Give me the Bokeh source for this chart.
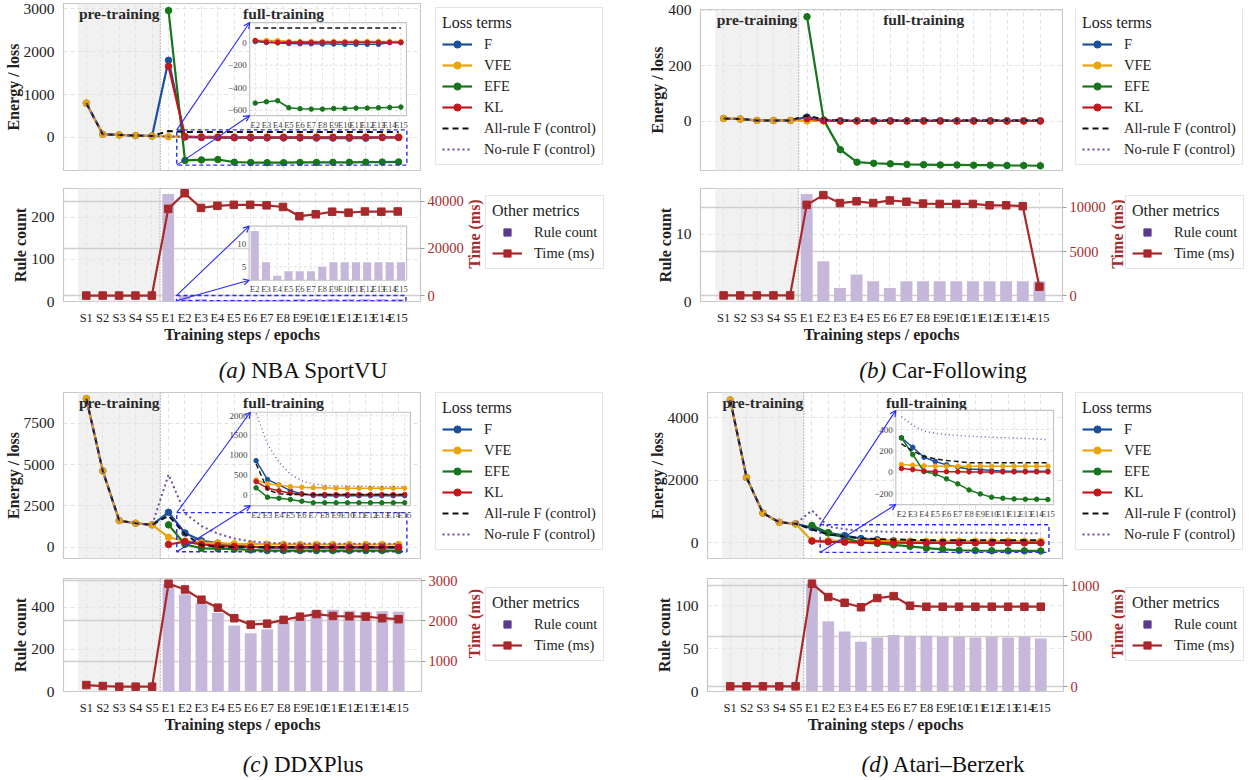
import math
from bokeh.plotting import figure
from bokeh.models import (Range1d, LinearAxis, FixedTicker, Grid, BoxAnnotation, Span,
                          Legend, LegendItem, Arrow, OpenHead, Div, AllLabels)
from bokeh.layouts import column, row
from bokeh.core.properties import value
from bokeh.embed import file_html
from bokeh.resources import INLINE

N = float("nan")
steps = ["S1", "S2", "S3", "S4", "S5", "E1", "E2", "E3", "E4", "E5", "E6", "E7", "E8",
         "E9", "E10", "E11", "E12", "E13", "E14", "E15"]

# ---------------- (a) NBA SportVU ----------------
a_F = [800, 75, 60, 45, 35, 1800, 10, 2, -2, -8, -10, -10, -12, -12, -14, -14, -15, -15, 0, 0]
a_VFE = [800, 75, 60, 45, 35, 20, 21, 20, 18, 10, 10, 10, 10, 10, 10, 10, 10, 10, 10, 10]
a_EFE = [N, N, N, N, N, 2960, -535, -523, -514, -576, -584, -588, -588, -582, -582, -579, -579, -576, -573, -570]
a_KL = [N, N, N, N, N, 1660, 18, 5, 3, 3, 3, 3, 3, 3, 3, 3, 3, 3, 3, 3]
a_ALL = [800, 75, 60, 45, 35, 150, 130, 130, 130, 130, 130, 130, 130, 130, 130, 130, 130, 130, 130, 130]
a_NO = [800, 75, 60, 45, 35, 25, 15, 12, 12, 10, 10, 10, 10, 10, 10, 10, 10, 10, 10, 10]
a_rules = [0, 0, 0, 0, 0, 255, 13, 6, 3, 4, 4, 4, 5, 6, 6, 6, 6, 6, 6, 6]
a_time = [100, 100, 100, 100, 100, 36700, 43300, 37100, 38000, 38400, 38400, 38200, 37500,
          33600, 34400, 35500, 35100, 35600, 35500, 35600]
a_loss_ticks = [0, 1000, 2000, 3000]
a_rule_ticks = [0, 100, 200]
a_time_ticks = [0, 20000, 40000]
a_inset_ticks = [-600, -400, -200, 0]
a_inset_labels = ["\u2212600", "\u2212400", "\u2212200", "0"]
a_rinset_ticks = [5, 10]
a_rinset_labels = ["5", "10"]

# ---------------- (b) Car-Following ----------------
b_F = [10, 8, 3, 3, 3, 15, 3, 2, 2, 2, 2, 2, 2, 2, 2, 2, 2, 2, 2, 2]
b_VFE = [10, 8, 3, 3, 3, 1, 2, 1, 1, 1, 1, 1, 1, 1, 1, 1, 1, 1, 1, 1]
b_EFE = [N, N, N, N, N, 376, 5, -102, -147, -151, -153, -155, -156, -157, -157, -158, -158, -159, -159, -160]
b_KL = [N, N, N, N, N, 10, 2, 1, 1, 1, 1, 1, 1, 1, 1, 1, 1, 1, 1, 1]
b_ALL = [10, 8, 3, 3, 3, 21, 6, 4, 4, 4, 4, 4, 4, 4, 4, 4, 4, 4, 4, 4]
b_NO = [10, 8, 3, 3, 3, 12, 5, 4, 4, 4, 4, 4, 4, 4, 4, 4, 4, 4, 4, 4]
b_rules = [0, 0, 0, 0, 0, 16, 6, 2, 4, 3, 2, 3, 3, 3, 3, 3, 3, 3, 3, 3]
b_time = [50, 50, 50, 50, 50, 10300, 11400, 10500, 10700, 10500, 10800, 10650, 10440,
          10400, 10400, 10400, 10250, 10250, 10150, 1040]
b_loss_ticks = [0, 200, 400]
b_rule_ticks = [0, 10]
b_time_ticks = [0, 5000, 10000]

# ---------------- (c) DDXPlus ----------------
c_F = [9000, 4620, 1610, 1450, 1350, 2110, 860, 380, 245, 100, 17, -25, -30, -30, -30, -30, -30, -30, -30, -30]
c_VFE = [9000, 4620, 1610, 1450, 1350, 600, 370, 270, 245, 200, 185, 175, 170, 160, 160, 160, 160, 160, 160, 160]
c_EFE = [N, N, N, N, N, 1350, 170, -70, -95, -125, -170, -210, -210, -210, -210, -210, -210, -210, -210, -210]
c_KL = [N, N, N, N, N, 160, 330, 160, 95, 35, 10, 0, 0, 0, 0, 0, 0, 0, 0, 0]
c_ALL = [9000, 4620, 1610, 1450, 1350, 1910, 780, 120, 20, 0, 0, 0, 0, 0, 0, 0, 0, 0, 0, 0]
c_NO = [9000, 4620, 1610, 1450, 1350, 4400, 2060, 1280, 820, 520, 350, 270, 230, 220, 215, 210, 205, 200, 200, 200]
c_rules = [0, 0, 0, 0, 0, 510, 461, 418, 372, 313, 276, 295, 329, 349, 384, 387, 382, 378, 380, 377]
c_time = [405, 380, 365, 365, 365, 2920, 2778, 2524, 2326, 2064, 1905, 1929, 2024, 2103, 2167,
          2119, 2111, 2103, 2064, 2040]
c_loss_ticks = [0, 2500, 5000, 7500]
c_rule_ticks = [0, 200, 400]
c_time_ticks = [1000, 2000, 3000]
c_inset_ticks = [0, 500, 1000, 1500, 2000]
c_inset_labels = ["0", "500", "1000", "1500", "2000"]

# ---------------- (d) Atari-Berzerk ----------------
d_F = [4560, 2090, 950, 660, 610, 490, 322, 234, 140, 100, 69, 47, 31, 25, 16, 12, 10, 10, 10, 10]
d_VFE = [4560, 2090, 950, 660, 610, 70, 72, 66, 60, 56, 56, 56, 56, 56, 56, 56, 56, 56, 56, 56]
d_EFE = [N, N, N, N, N, 560, 322, 166, 6, -16, -62, -109, -166, -203, -234, -244, -250, -253, -253, -256]
d_KL = [N, N, N, N, N, 60, 34, 25, 12, 6, 5, 4, 3, 3, 3, 3, 3, 3, 3, 3]
d_ALL = [4560, 2090, 950, 660, 610, 435, 265, 200, 147, 125, 110, 100, 88, 88, 88, 88, 88, 88, 88, 88]
d_NO = [4560, 2090, 950, 660, 610, 1035, 522, 440, 385, 365, 352, 345, 338, 332, 328, 324, 320, 316, 312, 305]
d_rules = [0, 0, 0, 0, 0, 126, 82, 70, 58, 63, 66, 65, 65, 64, 64, 63, 64, 63, 64, 62]
d_time = [3, 3, 3, 3, 3, 1022, 889, 832, 788, 879, 898, 803, 793, 793, 793, 793, 793, 793, 793, 793]
d_loss_ticks = [0, 2000, 4000]
d_rule_ticks = [0, 50, 100]
d_time_ticks = [0, 500, 1000]
d_inset_ticks = [-200, 0, 200, 400]
d_inset_labels = ["\u2212200", "0", "200", "400"]

# ---------------- styling ----------------
FONT = "Liberation Serif"
COL = {"F": "#1c4f9c", "VFE": "#eaa50d", "EFE": "#17761b", "KL": "#c5161d",
       "ALL": "#111111", "NO": "#6c4ea2"}
RED = "#a8292b"
BAR = "#c6b8da"
BLUE = "#2b2bf5"
RULE_MARK = "#5a3b8e"
X = list(range(len(steps)))
XR = (-1.39, 20.39)
INSET_X = (5.5, 19.5)
LOSS_LABELS = [("F", "F"), ("VFE", "VFE"), ("EFE", "EFE"), ("KL", "KL"),
               ("ALL", "All-rule F (control)"), ("NO", "No-rule F (control)")]


def style_axis(ax, label_size="15.5px", title_standoff=0):
    ax.major_label_text_font = FONT
    ax.major_label_text_font_size = label_size
    ax.major_label_text_color = "#222222"
    ax.axis_label_text_font = FONT
    ax.axis_label_text_font_size = "16px"
    ax.axis_label_text_font_style = "bold"
    ax.axis_label_text_color = "#222222"
    ax.axis_line_color = None
    ax.major_tick_line_color = None
    ax.minor_tick_line_color = None
    ax.major_label_standoff = 3
    ax.axis_label_standoff = title_standoff


def base_fig(w, h, bl, br, bt, bb, yr, xaxis):
    p = figure(width=w, height=h, x_range=Range1d(*XR), y_range=Range1d(*yr),
               output_backend="svg", toolbar_location=None,
               x_axis_location=("below" if xaxis else None),
               min_border_left=bl, min_border_right=br, min_border_top=bt, min_border_bottom=bb)
    p.center = [r for r in p.center if not isinstance(r, Grid)]
    p.outline_line_color = "#c8c8c8"
    p.outline_line_width = 1.2
    p.background_fill_color = "white"
    p.border_fill_color = "white"
    p.add_layout(BoxAnnotation(left=-0.5, right=4.5, fill_color="#f1f1f1", fill_alpha=1.0,
                               line_color=None, level="underlay"))
    p.add_layout(Grid(dimension=0, ticker=FixedTicker(ticks=X), grid_line_color="#e2e2e2",
                      grid_line_dash="4 3"))
    p.add_layout(Span(location=4.5, dimension="height", line_color="#8c8c8c",
                      line_dash="1 2", line_width=1.2, level="underlay"))
    return p


def make_legend(items, title, loc):
    lg = Legend(items=items, location=loc, title=title)
    lg.label_text_font = FONT
    lg.label_text_font_size = "14.5px"
    lg.label_text_color = "#222222"
    lg.title_text_font = FONT
    lg.title_text_font_size = "16px"
    lg.title_text_font_style = "normal"
    lg.title_text_color = "#222222"
    lg.title_standoff = 3
    lg.border_line_color = "#cccccc"
    lg.background_fill_alpha = 1.0
    lg.glyph_width = 30
    lg.glyph_height = 18
    lg.label_height = 18
    lg.spacing = 3
    lg.padding = 6
    lg.margin = 0
    lg.label_standoff = 12
    return lg


def blank_fig(w, h):
    q = figure(width=w, height=h, x_range=Range1d(0, w), y_range=Range1d(0, h),
               output_backend="svg", toolbar_location=None,
               x_axis_location=None, y_axis_location=None,
               min_border_left=0, min_border_right=0, min_border_top=0, min_border_bottom=0)
    q.center = [r for r in q.center if not isinstance(r, Grid)]
    q.outline_line_color = None
    q.background_fill_color = "white"
    q.border_fill_color = "white"
    return q


def loss_legend_fig(w, h, loc):
    q = blank_fig(w, h)
    items = []
    off = [-50, -40]   # proxy glyphs, outside the visible range (legend only)
    for key, label in LOSS_LABELS:
        if key in ("ALL", "NO"):
            dash = "6 4" if key == "ALL" else "2 3"
            r = q.line(off, off, line_color=COL[key], line_width=2, line_dash=dash)
            items.append(LegendItem(label=label, renderers=[r]))
        else:
            r1 = q.line(off, off, line_color=COL[key], line_width=2.2)
            r2 = q.scatter(off, off, marker="circle", size=6.5, fill_color=COL[key],
                           line_color=COL[key])
            items.append(LegendItem(label=label, renderers=[r1, r2]))
    q.add_layout(make_legend(items, "Loss terms", loc))
    return q


def metric_legend_fig(w, h, loc, title_xy):
    q = blank_fig(w, h)
    off = [-50, -40]
    r0 = q.scatter(off, off, marker="square", size=8, fill_color=RULE_MARK, line_color=RULE_MARK)
    r1 = q.line(off, off, line_color=RED, line_width=2.2)
    r2 = q.scatter(off, off, marker="square", size=7.5, fill_color=RED, line_color=RED)
    items = [LegendItem(label="Rule count", renderers=[r0]),
             LegendItem(label="Time (ms)", renderers=[r1, r2])]
    q.add_layout(make_legend(items, "Other metrics", loc))
    q.text(x=[title_xy[0]], y=[title_xy[1]], text=["Time (ms)"], angle=math.pi / 2,
           text_align="center", text_baseline="middle", text_font=value(FONT),
           text_font_size="16px", text_font_style="bold", text_color=RED)
    return q


def inset_frame(p, frac, src_y):
    xr, yr = p.x_range, p.y_range
    x0 = xr.start + frac[0] * (xr.end - xr.start)
    x1 = xr.start + frac[1] * (xr.end - xr.start)
    y0 = yr.start + frac[2] * (yr.end - yr.start)
    y1 = yr.start + frac[3] * (yr.end - yr.start)
    xs0, xs1 = INSET_X
    p.quad(left=[xs0], right=[xs1], bottom=[src_y[0]], top=[src_y[1]], fill_color=None,
           line_color=BLUE, line_dash="4 3", line_width=1.4)
    for ys, yt in ((src_y[1], y1), (src_y[0], y0)):
        p.add_layout(Arrow(end=OpenHead(size=6, line_color=BLUE, line_width=1.2),
                           x_start=xs0, y_start=ys, x_end=x0, y_end=yt,
                           line_color=BLUE, line_width=1.1))
    p.quad(left=[x0], right=[x1], bottom=[y0], top=[y1], fill_color="white",
           line_color="#c4c4c4", line_width=1.2)
    sub = p.subplot(x_source=Range1d(xs0, xs1), y_source=Range1d(*src_y),
                    x_target=Range1d(x0, x1), y_target=Range1d(y0, y1))
    return sub


def inset_axes(sub, src_y, yticks, ylabels):
    ex = X[6:]
    xs0, xs1 = INSET_X
    sub.segment(x0=ex, x1=ex, y0=[src_y[0]] * len(ex), y1=[src_y[1]] * len(ex),
                line_color="#dedede", line_dash="3 2", line_width=0.9)
    sub.segment(x0=[xs0] * len(yticks), x1=[xs1] * len(yticks), y0=yticks, y1=yticks,
                line_color="#dedede", line_dash="3 2", line_width=0.9)
    sub.text(x=[xs0] * len(yticks), y=yticks, text=ylabels, text_align="right",
             text_baseline="middle", x_offset=-3, text_font=value(FONT),
             text_font_size="9px", text_color="#444444")
    sub.text(x=ex, y=[src_y[0]] * len(ex), text=steps[6:], text_align="center",
             text_baseline="top", y_offset=4, text_font=value(FONT),
             text_font_size="8.5px", text_color="#444444")


def top_plot(w, h, bl, bt, bb, yr, yticks, series, inset=None):
    p = base_fig(w, h, bl, 0, bt, bb, yr, False)
    p.yaxis.ticker = FixedTicker(ticks=yticks)
    style_axis(p.yaxis[0], title_standoff=-1)
    p.yaxis.axis_label = "Energy / loss"
    p.add_layout(Grid(dimension=1, ticker=FixedTicker(ticks=yticks), grid_line_color="#e2e2e2",
                      grid_line_dash="4 3"))
    for key in ("F", "VFE", "EFE", "KL"):
        p.line(X, series[key], line_color=COL[key], line_width=2.2)
        p.scatter(X, series[key], marker="circle", size=6.5, fill_color=COL[key],
                  line_color=COL[key])
    p.line(X, series["ALL"], line_color=COL["ALL"], line_width=2, line_dash="6 4")
    p.line(X, series["NO"], line_color=COL["NO"], line_width=2, line_dash="2 3")
    ymax = p.y_range.end
    for xv, t in ((2, "pre-training"), (12, "full-training")):
        p.text(x=[xv], y=[ymax], text=[t], text_align="center", text_baseline="top", y_offset=1,
               text_font=value(FONT), text_font_size="15.5px", text_font_style="bold",
               text_color="#2a2a2a")
    if inset is not None:
        frac, src_y, iticks, ilabels = inset
        sub = inset_frame(p, frac, src_y)
        inset_axes(sub, src_y, iticks, ilabels)
        ex = X[6:]
        for key in ("F", "VFE", "EFE", "KL"):
            sub.line(ex, series[key][6:], line_color=COL[key], line_width=1.5)
            sub.scatter(ex, series[key][6:], marker="circle", size=4.5, fill_color=COL[key],
                        line_color=COL[key])
        sub.line(ex, series["ALL"][6:], line_color=COL["ALL"], line_width=1.4, line_dash="5 3")
        sub.line(ex, series["NO"][6:], line_color=COL["NO"], line_width=1.4, line_dash="1 3")
    return p


def bottom_plot(w, h, bl, br, bt, bb, rr, tr, rticks, tticks, rules, time, inset=None):
    p = base_fig(w, h, bl, br, bt, bb, rr, True)
    p.extra_y_ranges = {"time": Range1d(*tr)}
    p.xaxis.ticker = FixedTicker(ticks=X)
    p.xaxis.major_label_overrides = {i: s for i, s in enumerate(steps)}
    p.xaxis.major_label_policy = AllLabels()
    style_axis(p.xaxis[0], "12.5px", title_standoff=-2)
    p.xaxis.axis_label = "Training steps / epochs"
    p.yaxis.ticker = FixedTicker(ticks=rticks)
    style_axis(p.yaxis[0], title_standoff=-1)
    p.yaxis.axis_label = "Rule count"
    rax = LinearAxis(y_range_name="time", ticker=FixedTicker(ticks=tticks))
    style_axis(rax, "14.5px")
    rax.major_tick_line_color = "#9a9a9a"
    rax.major_tick_out = 4
    rax.major_tick_in = 0
    rax.major_label_standoff = 3
    rax.major_label_text_color = RED
    p.add_layout(rax, "right")
    p.add_layout(Grid(dimension=1, ticker=FixedTicker(ticks=rticks), grid_line_color="#e4e4e4",
                      grid_line_dash="4 3"))
    p.add_layout(Grid(dimension=1, ticker=FixedTicker(ticks=tticks), y_range_name="time",
                      grid_line_color="#cfcfcf", grid_line_width=1.3))
    p.vbar(x=X, top=rules, width=0.72, fill_color=BAR, line_color=None)
    p.line(X, time, y_range_name="time", line_color=RED, line_width=2.2)
    p.scatter(X, time, y_range_name="time", marker="square", size=7.5, fill_color=RED,
              line_color=RED)
    if inset is not None:
        frac, src_y, iticks, ilabels = inset
        sub = inset_frame(p, frac, src_y)
        inset_axes(sub, src_y, iticks, ilabels)
        sub.vbar(x=X[6:], top=rules[6:], bottom=src_y[0], width=0.72, fill_color=BAR, line_color=None)
    return p


def caption(tag, name, w, h, pad_top, pad_left, inner_w):
    html = ('<div style="font-family:\'Liberation Serif\',serif;font-size:23px;color:#111;'
            'text-align:center;width:%dpx;padding-top:%dpx;padding-left:%dpx;">'
            '<i>%s</i> %s</div>') % (inner_w, pad_top, pad_left, tag, name)
    return Div(text=html, width=w, height=h, margin=0)


def series(F, VFE, EFE, KL, ALL, NO):
    return {"F": F, "VFE": VFE, "EFE": EFE, "KL": KL, "ALL": ALL, "NO": NO}


# ---------------- panels ----------------
WA, WB = 636, 614

# (a)
ta = top_plot(421, 180, 63, 3, 10, (-770, 3125), a_loss_ticks,
              series(a_F, a_VFE, a_EFE, a_KL, a_ALL, a_NO),
              inset=((0.52, 0.958, 0.329, 0.886), (-645, 178), a_inset_ticks, a_inset_labels))
la = loss_legend_fig(WA - 421, 180, (14, 5))
ba = bottom_plot(466, 165, 63, 45, 8, 40, (0, 268), (-2400, 45300), a_rule_ticks, a_time_ticks,
                 a_rules, a_time,
                 inset=((0.52, 0.961, 0.188, 0.667), (2, 14.1), a_rinset_ticks, a_rinset_labels))
ma = metric_legend_fig(WA - 466, 165, (19, 32), (8, 98.5))
ca = caption("(a)", "NBA SportVU", WA, 45, 10, 0, 606)

# (b)
tb = top_plot(427, 180, 64, 9, 10, (-177, 402), b_loss_ticks,
              series(b_F, b_VFE, b_EFE, b_KL, b_ALL, b_NO))
lb = loss_legend_fig(WB - 427, 180, (12, 5))
bb_ = bottom_plot(472, 165, 64, 45, 8, 40, (0, 16.8), (-640, 12150), b_rule_ticks, b_time_ticks,
                  b_rules, b_time)
mb = metric_legend_fig(WB - 472, 165, (17, 32), (9, 98.5))
cb = caption("(b)", "Car-Following", WB, 45, 10, 8, 606)

# (c)
tc = top_plot(421, 182, 63, 2, 14, (-690, 9380), c_loss_ticks,
              series(c_F, c_VFE, c_EFE, c_KL, c_ALL, c_NO),
              inset=((0.522, 0.969, 0.319, 0.881), (-280, 2090), c_inset_ticks, c_inset_labels))
lc = loss_legend_fig(WA - 421, 182, (14, 8))
bc = bottom_plot(466, 163, 63, 45, 6, 39, (0, 535), (245, 3050), c_rule_ticks, c_time_ticks,
                 c_rules, c_time)
mc = metric_legend_fig(WA - 466, 163, (19, 30), (8, 98))
cc = caption("(c)", "DDXPlus", WA, 45, 14, 0, 606)

# (d)
td = top_plot(427, 182, 71, 2, 14, (-497, 4801), d_loss_ticks,
              series(d_F, d_VFE, d_EFE, d_KL, d_ALL, d_NO),
              inset=((0.529, 0.972, 0.325, 0.892), (-303, 579), d_inset_ticks, d_inset_labels))
ld = loss_legend_fig(WB - 427, 182, (12, 8))
bd = bottom_plot(472, 163, 71, 45, 6, 39, (0, 132), (-48, 1073), d_rule_ticks, d_time_ticks,
                 d_rules, d_time)
md = metric_legend_fig(WB - 472, 163, (17, 30), (9, 98))
cd = caption("(d)", "Atari\u2013Berzerk", WB, 45, 14, 8, 606)

layout = column(
    row(column(row(ta, la), row(ba, ma), ca), column(row(tb, lb), row(bb_, mb), cb)),
    row(column(row(tc, lc), row(bc, mc), cc), column(row(td, ld), row(bd, md), cd)))

open("out.html", "w").write(file_html(layout, INLINE))
